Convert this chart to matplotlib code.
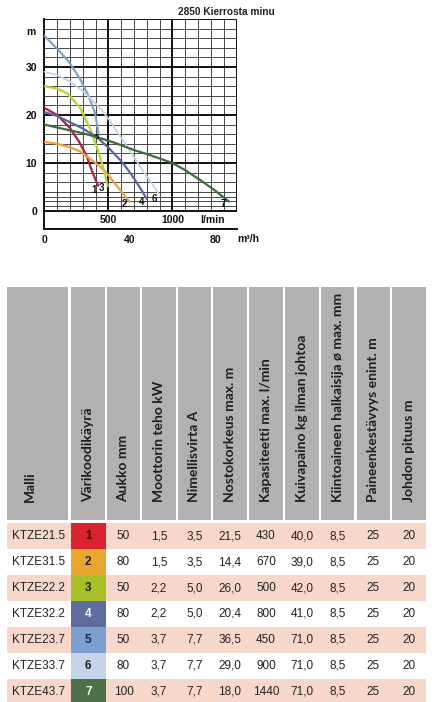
import matplotlib
matplotlib.use("Agg")
import matplotlib.pyplot as plt
from matplotlib.patches import Rectangle

# pump curves: flow (l/min) vs head (m)
q1 = [0, 100, 200, 270, 330, 370, 400, 420]
h1 = [21.5, 20.0, 17.3, 14.5, 11.5, 8.5, 6.5, 5.3]
q2 = [0, 100, 200, 280, 360, 435, 500, 540, 600, 665]
h2 = [14.4, 14.0, 13.3, 12.4, 10.8, 9.3, 7.5, 6.1, 4.1, 1.9]
q3 = [0, 100, 180, 280, 360, 420, 460, 480, 495]
h3 = [26.0, 25.5, 24.5, 21.5, 17.0, 12.5, 9.0, 7.0, 5.2]
q4 = [0, 100, 200, 300, 410, 500, 590, 650, 700, 760, 800]
h4 = [20.6, 19.8, 18.5, 17.2, 15.4, 13.2, 10.7, 8.7, 6.8, 4.3, 2.5]
q5 = [0, 100, 195, 280, 345, 395, 415, 425]
h5 = [36.5, 33.8, 31.0, 27.5, 24.0, 20.5, 17.5, 15.8]
q6 = [0, 100, 200, 300, 435, 520, 590, 650, 700, 750, 800, 850, 890]
h6 = [29.0, 28.3, 27.0, 25.0, 21.5, 18.5, 15.6, 13.3, 11.2, 9.2, 7.2, 5.3, 3.7]
q7 = [0, 100, 200, 300, 410, 550, 700, 830, 1000, 1100, 1220, 1330, 1440]
h7 = [18.0, 17.4, 16.8, 16.2, 15.4, 14.2, 12.7, 11.6, 10.0, 8.5, 6.4, 4.3, 2.0]

curve_colors = ['#b01e45', '#e8a040', '#b5d334', '#5867a5', '#7fa3c8', '#c0d2e6', '#3d6b3d']
curve_widths = [1.6, 1.6, 1.6, 1.6, 1.6, 1.3, 1.6]

# table data
headers = ["Malli", "Värikoodikäyrä", "Aukko mm", "Moottorin teho kW", "Nimellisvirta A",
           "Nostokorkeus max. m", "Kapasiteetti max. l/min", "Kuivapaino kg ilman johtoa",
           "Kiintoaineen halkaisija ø max. mm", "Paineenkestävyys enint. m", "Johdon pituus m"]
models = ["KTZE21.5", "KTZE31.5", "KTZE22.2", "KTZE32.2", "KTZE23.7", "KTZE33.7", "KTZE43.7"]
codes = [1, 2, 3, 4, 5, 6, 7]
aukko = [50, 80, 50, 80, 50, 80, 100]
teho = [1.5, 1.5, 2.2, 2.2, 3.7, 3.7, 3.7]
virta = [3.5, 3.5, 5.0, 5.0, 7.7, 7.7, 7.7]
nosto = [21.5, 14.4, 26.0, 20.4, 36.5, 29.0, 18.0]
kapasiteetti = [430, 670, 500, 800, 450, 900, 1440]
paino = [40.0, 39.0, 42.0, 41.0, 71.0, 71.0, 71.0]
kiinto = [8.5, 8.5, 8.5, 8.5, 8.5, 8.5, 8.5]
paine = [25, 25, 25, 25, 25, 25, 25]
johto = [20, 20, 20, 20, 20, 20, 20]

code_colors = ['#d9232e', '#e8a530', '#a8c02a', '#5f6d9e', '#7c9fcf', '#c5d4e8', '#4d7049']
code_text = ['#3a0c10', '#222222', '#222222', '#ffffff', '#1a2a4a', '#222222', '#ffffff']

W, H = 448, 702
fig = plt.figure(figsize=(W / 100, H / 100), dpi=100)
fig.patch.set_facecolor('white')

# full-figure pixel axes for the table and loose text
tax = fig.add_axes([0, 0, 1, 1])
tax.set_xlim(0, W)
tax.set_ylim(H, 0)
tax.axis('off')

# ---- chart ----
px_left, px_right, px_top, px_bot = 44.3, 236.5, 19, 229
ax = fig.add_axes([px_left / W, (H - px_bot) / H, (px_right - px_left) / W, (px_bot - px_top) / H])
ax.set_xlim(0, 1500)
ax.set_ylim(-3.75, 40)
for s in ['top', 'right']:
    ax.spines[s].set_visible(False)
for s in ['left', 'bottom']:
    ax.spines[s].set_linewidth(1.4)
    ax.spines[s].set_color('#111111')

grid_y = [1, 2, 3, 4, 6, 8, 12, 14, 16, 18, 22, 24, 26, 28, 32, 34, 36, 38]
major_y = [0, 10, 20, 30, 40]
grid_x = [100, 200, 300, 400, 600, 700, 800, 900, 1100, 1200, 1300, 1400]
major_x = [500, 1000, 1500]
ax.hlines(grid_y, 0, 1500, color='#3a3a3a', lw=0.65, zorder=1)
ax.vlines(grid_x, 0, 40, color='#3a3a3a', lw=0.65, zorder=1)
ax.hlines(major_y, 0, 1500, color='#111111', lw=1.4, zorder=1)
ax.vlines(major_x, 0, 40, color='#111111', lw=1.4, zorder=1)

for q, h, c, w in zip([q1, q2, q3, q4, q5, q6, q7], [h1, h2, h3, h4, h5, h6, h7],
                      curve_colors, curve_widths):
    ax.plot(q, h, color=c, lw=w, solid_capstyle='round', solid_joinstyle='round', zorder=3)

lab = dict(fontsize=7, fontweight='bold', color='#111111', family='Liberation Sans',
           ha='center', va='center', zorder=4)
ax.text(388, 4.3, '1', **lab)
ax.text(445, 4.7, '3', **lab)
ax.text(622, 1.4, '2', **lab)
ax.text(757, 1.8, '4', **lab)
ax.text(860, 2.5, '6', **lab)
ax.text(1395, 1.4, '7', **lab)
ax.text(408, 15.3, '5', fontsize=5.5, fontweight='bold', color='#111111',
        family='Liberation Sans', ha='center', va='center', zorder=4)

tick_font = dict(fontsize=7.5, fontweight='bold', family='Liberation Sans', color='#111111')
ax.set_yticks([0, 10, 20, 30])
ax.set_yticklabels(['0', '10', '20', '30'], **tick_font)
ax.set_xticks([0, 40 * 1000 / 60, 80 * 1000 / 60])
ax.set_xticklabels(['0', '40', '80'], **tick_font)
ax.tick_params(axis='y', length=0, pad=5)
ax.tick_params(axis='x', length=0, pad=4)

ax.text(500, -1.9, '500', ha='center', va='center', **tick_font)
ax.text(1000, -1.9, '1000', ha='center', va='center', **tick_font)
ax.text(1310, -1.9, 'l/min', ha='center', va='center', **tick_font)
tax.text(248.5, 239, 'm³/h', ha='center', va='center', **tick_font)
tax.text(31, 32, 'm', ha='center', va='center', **tick_font)
tax.text(178, 12, '2850 Kierrosta minu', ha='left', va='center', fontsize=7.3,
         fontweight='bold', family='Liberation Sans', color='#222222')

# ---- table ----
edges = [6.7, 69.5, 106.2, 140.8, 177, 212, 248, 284, 319.7, 355.3, 390.8, 425.5]
gap = 2.4
head_top, head_bot = 287.3, 520
for i, name in enumerate(headers):
    x0 = edges[i] + (gap / 2 if i > 0 else 0)
    x1 = edges[i + 1] - (gap / 2 if i < len(headers) - 1 else 0)
    tax.add_patch(Rectangle((x0, head_top), x1 - x0, head_bot - head_top,
                            facecolor='#b2b0b1', edgecolor='none'))
    xc = 30 if i == 0 else (x0 + x1) / 2
    tax.text(xc, 502, name, rotation=90, ha='center', va='bottom', fontsize=10,
             fontweight='bold', family='Lato', color='#1e1e1e')

row_top, row_h = 523.3, 25.9
columns = [aukko, teho, virta, nosto, kapasiteetti, paino, kiinto, paine, johto]
decimals = [0, 1, 1, 1, 0, 1, 1, 0, 0]
for r, model in enumerate(models):
    y0 = row_top + r * row_h
    yc = y0 + row_h / 2
    if r % 2 == 0:
        tax.add_patch(Rectangle((6.7, y0), 426 - 6.7, row_h, facecolor='#f8d7cb', edgecolor='none'))
    tax.add_patch(Rectangle((70.7, y0), 106 - 70.7, row_h, facecolor=code_colors[r], edgecolor='none'))
    tax.text(11.7, yc, model, ha='left', va='center', fontsize=8.5,
             family='Liberation Sans', color='#222222')
    tax.text(88.3, yc, str(codes[r]), ha='center', va='center', fontsize=8.5,
             fontweight='bold', family='Liberation Sans', color=code_text[r])
    for c, (vals, d) in enumerate(zip(columns, decimals)):
        x0 = edges[c + 2] + gap / 2
        x1 = edges[c + 3] - (gap / 2 if c + 3 < len(edges) - 1 else 0)
        s = f"{vals[r]:.{d}f}".replace('.', ',')
        tax.text((x0 + x1) / 2, yc, s, ha='center', va='center', fontsize=8.5,
                 family='Liberation Sans', color='#222222')

fig.savefig('out.png', dpi=100, facecolor='white')
